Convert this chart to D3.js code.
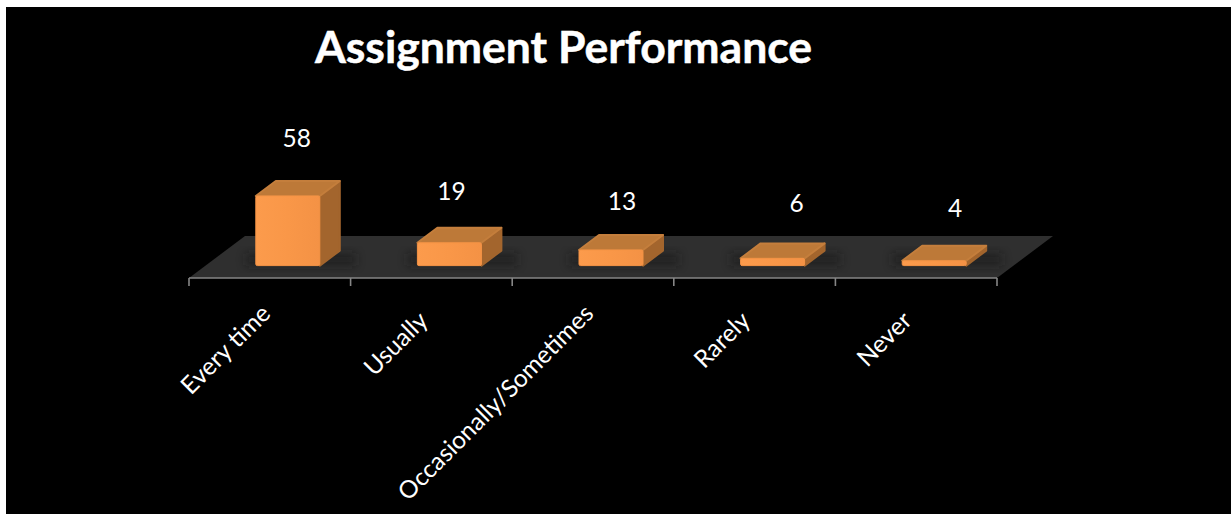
<!DOCTYPE html>
<html><head><meta charset="utf-8">
<script src="https://cdnjs.cloudflare.com/ajax/libs/d3/7.8.5/d3.min.js"></script>
<style>html,body{margin:0;padding:0;background:#fff;overflow:hidden}svg{display:block}</style>
</head><body><svg id="c" width="1231" height="514"></svg>
<script>
const categories = ["Every time","Usually","Occasionally/Sometimes","Rarely","Never"];
const values = [58,19,13,6,4];
const titleText = "Assignment Performance";
// hand-placed label nudges of the reference (px)
const labelNudgeX = [9,2,11,24,21];
const labelNudgeY = [-42,-36,-33,-39,-37];
const catNudgeX = [0,-4,0,-5,-5];
const catNudgeY = [2,9,2,9,9];

const svg = d3.select("#c");
svg.append("rect").attr("x",6).attr("y",7).attr("width",1225).attr("height",507).attr("fill","#000");
const defs = svg.append("defs");
defs.append("filter").attr("id","blur").attr("x","-30%").attr("y","-60%").attr("width","160%").attr("height","220%")
  .append("feGaussianBlur").attr("stdDeviation",5);
const fg = defs.append("linearGradient").attr("id","front").attr("x1",0).attr("x2",1).attr("y1",0).attr("y2",0);
fg.append("stop").attr("offset","0").attr("stop-color","#FC9B4C");
fg.append("stop").attr("offset","0.5").attr("stop-color","#F99748");
fg.append("stop").attr("offset","1").attr("stop-color","#F49245");

const x = d3.scaleBand().domain(categories).range([189,997]);
const y = d3.scaleLinear().domain([0,58]).range([265.6,196]);
const dx = 20, dy = -15, barW = 64;
const bx = c => x(c) + (x.bandwidth()-barW)/2 + 18;
const line = pts => "M"+pts.map(p=>p.join(",")).join("L")+"Z";

// floor
svg.append("path").attr("d",line([[189,278],[245,236],[1053,236],[997,278]])).attr("fill","#2F2F2F");

// bars
const g = svg.selectAll("g.bar").data(categories.map((c,i)=>({c,v:values[i],i}))).join("g").attr("class","bar");
g.append("rect").attr("x",d=>bx(d.c)-10).attr("y",y(0)-12).attr("width",barW+dx+26).attr("height",12)
  .attr("fill","#151515").attr("opacity",0.55).attr("filter","url(#blur)");
const rounded = sel => sel.attr("stroke-linejoin","round").attr("stroke-width",2);
g.append("path").attr("d",d=>{const l=bx(d.c)+barW,t=y(d.v),b=y(0);
   return line([[l,t],[l+dx,t+dy],[l+dx,b+dy],[l,b]]);})
  .attr("fill","#A3652D").attr("stroke","#A3652D").call(rounded);
g.append("path").attr("d",d=>{const l=bx(d.c),t=y(d.v);
   return line([[l,t],[l+dx,t+dy],[l+barW+dx,t+dy],[l+barW,t]]);})
  .attr("fill","#BD7938").attr("stroke","#C47E3C").call(rounded);
g.append("rect").attr("x",d=>bx(d.c)).attr("y",d=>y(d.v)).attr("width",barW)
  .attr("height",d=>y(0)-y(d.v)).attr("rx",1.5)
  .attr("fill","url(#front)").attr("stroke","#F59345").attr("stroke-width",1);

// axis
const tickXs = x.domain().map(c=>x(c)).concat([x.range()[1]]);
svg.append("line").attr("x1",189).attr("x2",997).attr("y1",278).attr("y2",278).attr("stroke","#868686").attr("stroke-width",1.6);
svg.selectAll("line.t").data(tickXs).join("line").attr("class","t")
  .attr("x1",d=>d).attr("x2",d=>d).attr("y1",278).attr("y2",286).attr("stroke","#868686").attr("stroke-width",1.6);

// value labels
svg.selectAll("text.v").data(values).join("text").attr("class","v")
  .attr("x",(d,i)=>bx(categories[i])+barW/2+labelNudgeX[i])
  .attr("y",(d,i)=>y(d)+dy+labelNudgeY[i]+8)
  .attr("text-anchor","middle").attr("fill","#fff")
  .style("font","24.5px Lato, 'Open Sans', sans-serif").text(d=>d);

// category labels
svg.selectAll("text.c").data(categories).join("text").attr("class","c")
  .attr("transform",(c,i)=>`translate(${x(c)+x.bandwidth()/2+2+catNudgeX[i]},${313+catNudgeY[i]}) rotate(-45)`)
  .attr("text-anchor","end").attr("fill","#fff")
  .style("font","24.5px Lato, 'Open Sans', sans-serif").text(c=>c);

// title
svg.append("text").attr("x",563.5).attr("y",63).attr("text-anchor","middle").attr("fill","#fff")
  .attr("stroke","#fff").attr("stroke-width",0.5)
  .style("font","bold 44.5px Lato, 'Open Sans', sans-serif").text(titleText);
</script></body></html>
